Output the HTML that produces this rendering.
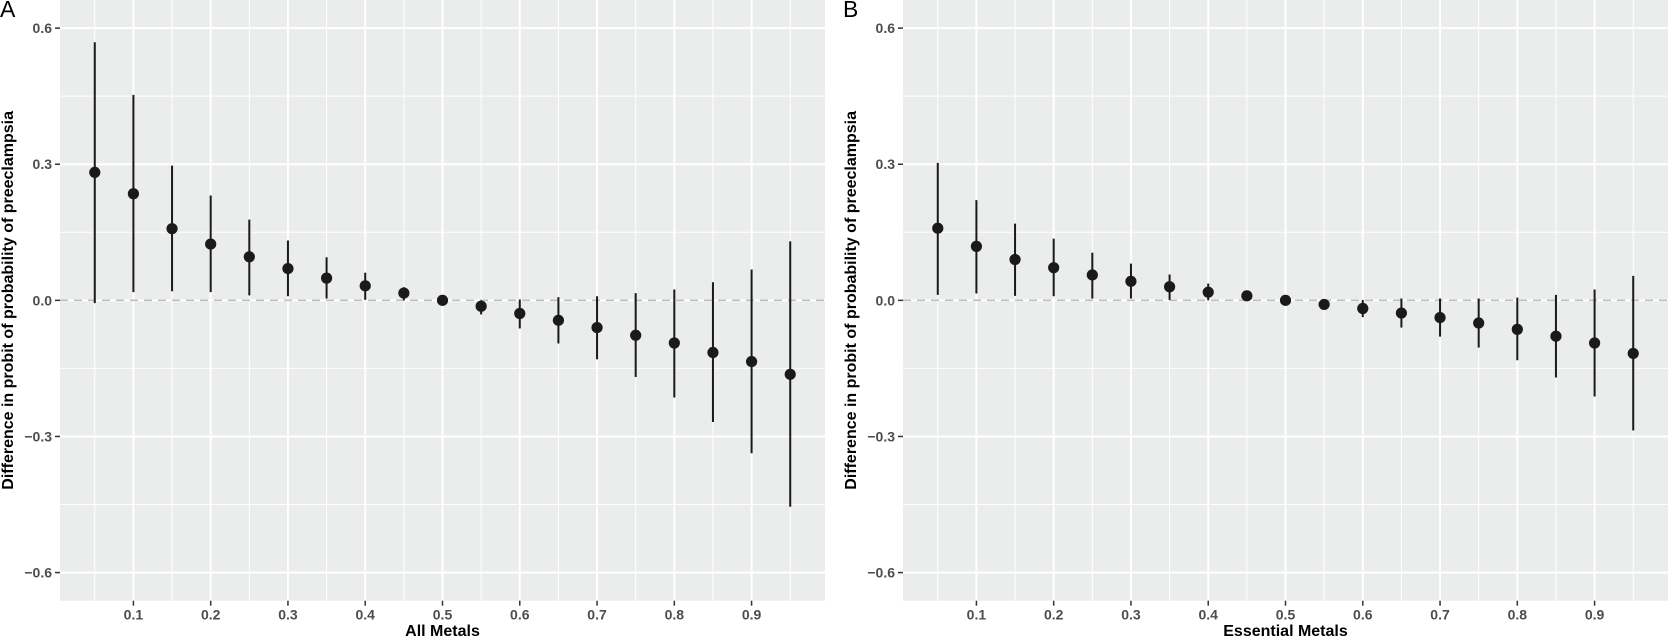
<!DOCTYPE html>
<html><head><meta charset="utf-8">
<style>
html,body{margin:0;padding:0;background:#fff;}
svg{display:block;font-family:"Liberation Sans",Arial,sans-serif;}
</style></head>
<body>
<svg id="chart" width="1668" height="641" viewBox="0 0 1668 641" xmlns="http://www.w3.org/2000/svg"></svg>
<script>
const quantiles = [0.05,0.1,0.15,0.2,0.25,0.3,0.35,0.4,0.45,0.5,0.55,0.6,0.65,0.7,0.75,0.8,0.85,0.9,0.95];
const allEst = [0.282,0.235,0.158,0.124,0.096,0.070,0.049,0.032,0.016,0,-0.013,-0.029,-0.044,-0.060,-0.077,-0.094,-0.115,-0.135,-0.163];
const allLo  = [-0.006,0.018,0.020,0.018,0.011,0.009,0.004,0.001,0.000,0,-0.031,-0.062,-0.095,-0.130,-0.169,-0.214,-0.268,-0.337,-0.455];
const allHi  = [0.569,0.453,0.297,0.231,0.178,0.132,0.095,0.061,0.029,0,0.000,0.002,0.007,0.009,0.016,0.024,0.040,0.068,0.130];
const essEst = [0.159,0.119,0.090,0.072,0.056,0.042,0.030,0.018,0.010,0,-0.009,-0.018,-0.028,-0.038,-0.050,-0.064,-0.079,-0.094,-0.117];
const essLo  = [0.012,0.015,0.010,0.009,0.004,0.004,0.001,0.000,0.005,0,-0.015,-0.037,-0.060,-0.080,-0.104,-0.132,-0.170,-0.212,-0.287];
const essHi  = [0.303,0.221,0.169,0.136,0.105,0.081,0.057,0.037,0.014,0,-0.003,0.001,0.004,0.004,0.004,0.006,0.012,0.024,0.054];
const yTicks = [-0.6,-0.3,0.0,0.3,0.6];
const yTickLabels = ["-0.6","-0.3","0.0","0.3","0.6"];
const xTicks = [0.1,0.2,0.3,0.4,0.5,0.6,0.7,0.8,0.9];
const xTickLabels = ["0.1","0.2","0.3","0.4","0.5","0.6","0.7","0.8","0.9"];

const NS="http://www.w3.org/2000/svg";
const svg=document.getElementById('chart');
function mk(tag,attrs,parent){const e=document.createElementNS(NS,tag);for(const k in attrs)e.setAttribute(k,attrs[k]);(parent||svg).appendChild(e);return e;}

const XMIN=0.005,XMAX=0.995,YMIN=-0.662,YMAX=0.662;
const PTOP=0,PBOT=600.7,PW=765;

function panel(left,letter,xtitle,est,lo,hi,key){
  const g=mk('g',{});
  
  
  const xs=v=>left+(v-XMIN)/(XMAX-XMIN)*PW;
  const ys=v=>PBOT-(v-YMIN)/(YMAX-YMIN)*(PBOT-PTOP);
  const bg=mk('rect',{x:left,y:PTOP,width:PW,height:PBOT-PTOP,fill:'#ebecec'},g);
  
  
  for(let i=0;i<yTicks.length-1;i++){const v=(yTicks[i]+yTicks[i+1])/2;
    mk('line',{x1:left,x2:left+PW,y1:ys(v),y2:ys(v),stroke:'#fff','stroke-width':1},g);}
  mk('line',{x1:left,x2:left+PW,y1:ys(0.75),y2:ys(0.75),stroke:'#fff','stroke-width':1},g);
  mk('line',{x1:left,x2:left+PW,y1:ys(-0.75),y2:ys(-0.75),stroke:'#fff','stroke-width':1},g);
  const minX=[0.05,0.15,0.25,0.35,0.45,0.55,0.65,0.75,0.85,0.95];
  minX.forEach(v=>mk('line',{x1:xs(v),x2:xs(v),y1:PTOP,y2:PBOT,stroke:'#fff','stroke-width':1},g));
  yTicks.forEach((v,i)=>{
    mk('line',{x1:left,x2:left+PW,y1:ys(v),y2:ys(v),stroke:'#fff','stroke-width':2},g);
    mk('line',{x1:left-5,x2:left,y1:ys(v),y2:ys(v),stroke:'#333','stroke-width':1.5},g);
    const t=mk('text',{x:left-8,y:ys(v)+5,'text-anchor':'end','font-size':14,'font-weight':'bold',fill:'#4d4d4d'},g);
    t.textContent=yTickLabels[i].replace('-','\u2212');
    
    
  });
  xTicks.forEach((v,i)=>{
    mk('line',{x1:xs(v),x2:xs(v),y1:PTOP,y2:PBOT,stroke:'#fff','stroke-width':2},g);
    mk('line',{x1:xs(v),x2:xs(v),y1:PBOT,y2:PBOT+5,stroke:'#333','stroke-width':1.5},g);
    const t=mk('text',{x:xs(v),y:PBOT+19,'text-anchor':'middle','font-size':14,'font-weight':'bold',fill:'#4d4d4d'},g);
    t.textContent=xTickLabels[i];
    
    
  });
  const ref=mk('line',{x1:left,x2:left+PW,y1:ys(0),y2:ys(0),stroke:'#bebebe','stroke-width':1.6,'stroke-dasharray':'8,6'},g);
  
  
  quantiles.forEach((q,i)=>{
    const l=mk('line',{x1:xs(q),x2:xs(q),y1:ys(lo[i]),y2:ys(hi[i]),stroke:'#1a1a1a','stroke-width':2},g);
    
    
    const c=mk('circle',{cx:xs(q),cy:ys(est[i]),r:5.6,fill:'#1a1a1a'},g);
    
    
  });
  const xt=mk('text',{x:left+PW/2,y:636,'text-anchor':'middle','font-size':16,'font-weight':'bold',fill:'#000'},g);
  xt.textContent=xtitle;
  
  
  const yx=left-47;
  const yt=mk('text',{x:yx,y:ys(0),'text-anchor':'middle','font-size':16,'font-weight':'bold',fill:'#000',transform:`rotate(-90 ${yx} ${ys(0)})`},g);
  yt.textContent='Difference in probit of probability of preeclampsia';
  
  
  const lt=mk('text',{x:left-60,y:17,'font-size':23,fill:'#000'},g);
  lt.textContent=letter;
  
  
}
panel(60,'A','All Metals',allEst,allLo,allHi,'all-metals');
panel(903,'B','Essential Metals',essEst,essLo,essHi,'essential-metals');
</script>
</body></html>
